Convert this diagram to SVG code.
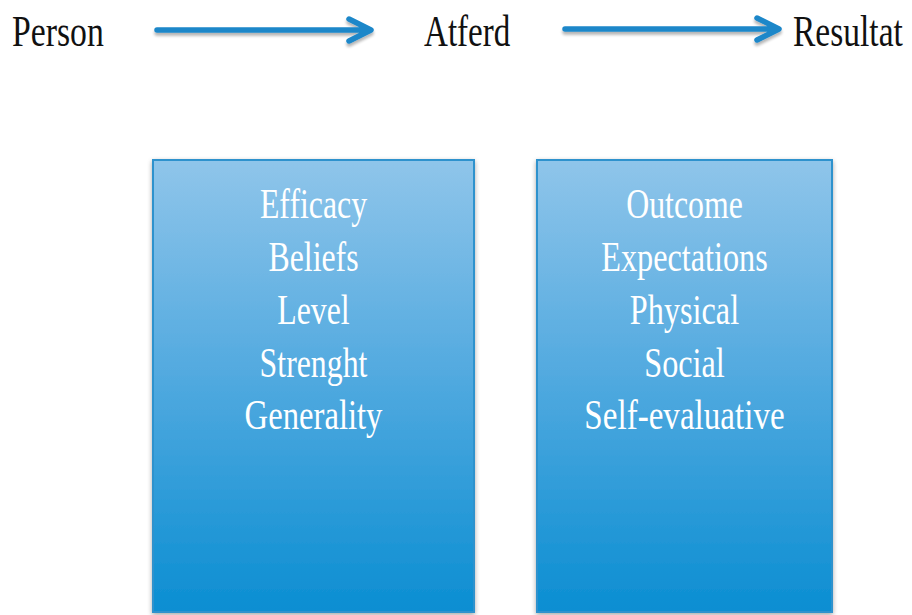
<svg xmlns="http://www.w3.org/2000/svg" width="912" height="615" viewBox="0 0 912 615">
  <defs>
    <linearGradient id="boxFill" x1="0" y1="0" x2="0" y2="1">
      <stop offset="0" stop-color="#8fc5ea"/>
      <stop offset="0.45" stop-color="#55abe0"/>
      <stop offset="1" stop-color="#0b8ed2"/>
    </linearGradient>
    <filter id="softShadow" x="-10%" y="-10%" width="120%" height="120%">
      <feGaussianBlur in="SourceAlpha" stdDeviation="2.5"/>
      <feOffset dx="0" dy="2" result="b"/>
      <feComponentTransfer><feFuncA type="linear" slope="0.35"/></feComponentTransfer>
      <feMerge><feMergeNode/><feMergeNode in="SourceGraphic"/></feMerge>
    </filter>
    <filter id="arrowShadow" x="-10%" y="-60%" width="120%" height="220%">
      <feGaussianBlur in="SourceAlpha" stdDeviation="1.5"/>
      <feOffset dx="0" dy="3" result="b"/>
      <feComponentTransfer><feFuncA type="linear" slope="0.3"/></feComponentTransfer>
      <feMerge><feMergeNode/><feMergeNode in="SourceGraphic"/></feMerge>
    </filter>
  </defs>
  <style>
    .head { font-family: "Liberation Serif", "Times New Roman", serif; font-size: 45px; fill: #111111; }
    .item { font-family: "Liberation Serif", "Times New Roman", serif; font-size: 43px; fill: #ffffff; text-anchor: middle; }
    .box { fill: url(#boxFill); stroke: #2f92cd; stroke-width: 2; }
    .arrow { fill: none; stroke: #1b87c9; stroke-width: 5.5; stroke-linecap: round; stroke-linejoin: round; }
  </style>

  <rect width="912" height="615" fill="#ffffff"/>

  <!-- top row labels -->
  <g id="person">
    <text class="head" transform="translate(12,46) scale(0.75,1)">Person</text>
  </g>
  <g id="atferd">
    <text class="head" transform="translate(424,46) scale(0.735,1)">Atferd</text>
  </g>
  <g id="resultat">
    <text class="head" transform="translate(793,46) scale(0.745,1)">Resultat</text>
  </g>

  <!-- connectors -->
  <g id="connectors" filter="url(#arrowShadow)">
    <path class="arrow" d="M157,30 H369 M349,19 L371,30 L349,41"/>
    <path class="arrow" d="M565,29 H777 M757,18 L779,29 L757,40"/>
  </g>

  <!-- efficacy beliefs box -->
  <g id="efficacy-box">
    <rect class="box" x="153" y="160" width="321" height="452" filter="url(#softShadow)"/>
    <text class="item" transform="translate(313.5,218) scale(0.74,1)">Efficacy</text>
    <text class="item" transform="translate(313.5,271) scale(0.74,1)">Beliefs</text>
    <text class="item" transform="translate(313.5,324) scale(0.74,1)">Level</text>
    <text class="item" transform="translate(313.5,377) scale(0.74,1)">Strenght</text>
    <text class="item" transform="translate(313.5,429) scale(0.76,1)">Generality</text>
  </g>

  <!-- outcome expectations box -->
  <g id="outcome-box">
    <rect class="box" x="537" y="160" width="295" height="452" filter="url(#softShadow)"/>
    <text class="item" transform="translate(684.5,218) scale(0.74,1)">Outcome</text>
    <text class="item" transform="translate(684.5,271) scale(0.75,1)">Expectations</text>
    <text class="item" transform="translate(684.5,324) scale(0.75,1)">Physical</text>
    <text class="item" transform="translate(684.5,377) scale(0.75,1)">Social</text>
    <text class="item" transform="translate(684.5,429) scale(0.77,1)">Self-evaluative</text>
  </g>
</svg>
